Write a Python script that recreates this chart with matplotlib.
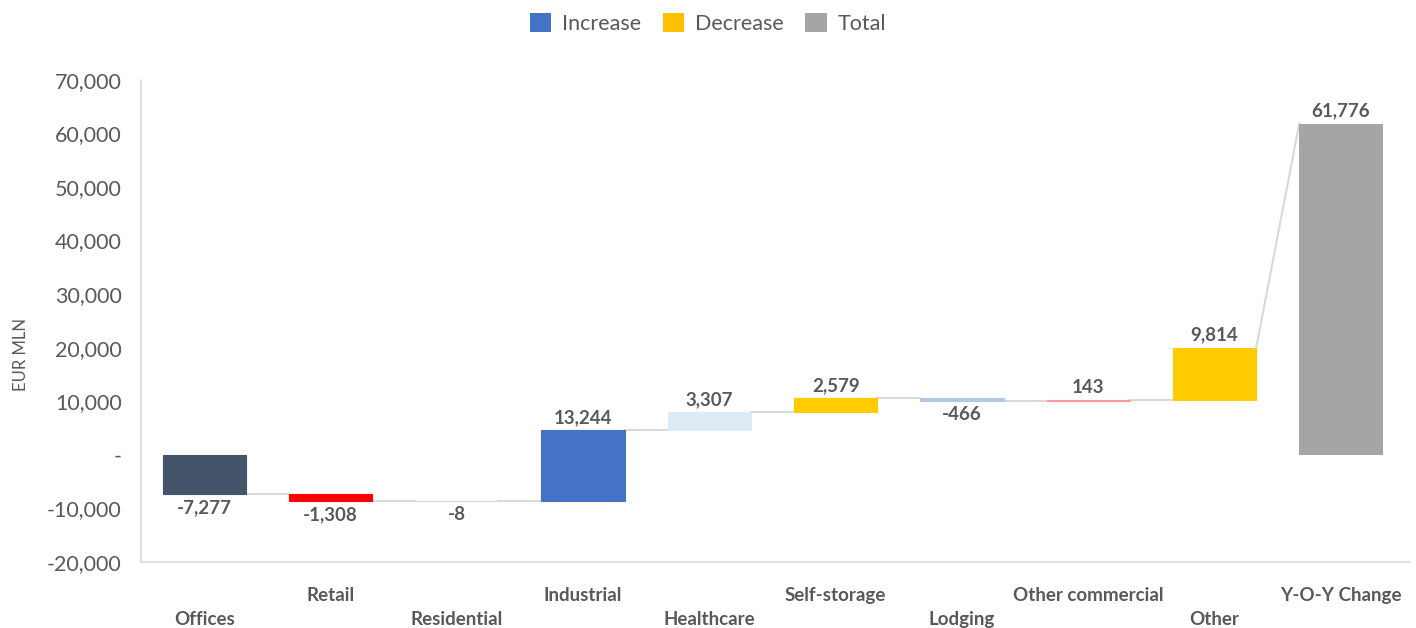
import matplotlib
matplotlib.use("Agg")
import matplotlib.pyplot as plt
from matplotlib.patches import Patch
from matplotlib.ticker import FuncFormatter
import numpy as np

categories = ["Offices", "Retail", "Residential", "Industrial", "Healthcare",
              "Self-storage", "Lodging", "Other commercial", "Other", "Y-O-Y Change"]
changes = [-7277, -1308, -8, 13244, 3307, 2579, -466, 143, 9814]
total_value = 61776
bar_colors = ["#44546A", "#FF0000", "#D9D9D9", "#4472C4", "#DDEBF7",
              "#FFCC00", "#B4C7E7", "#FF9999", "#FFCC00", "#A5A5A5"]
legend_labels = ["Increase", "Decrease", "Total"]
legend_colors = ["#4472C4", "#FFC000", "#A5A5A5"]
yticks = list(range(-20000, 70001, 10000))

plt.rcParams['font.family'] = ['Lato', 'DejaVu Sans']
txt = "#595959"

fig = plt.figure(figsize=(14.16, 6.28), dpi=100)
ax = fig.add_axes([0.0996, 0.105, 0.8964, 0.768])

ends = np.cumsum(changes)
starts = np.concatenate([[0], ends[:-1]])
x = np.arange(len(categories))
w = 0.66

for i, (s, c) in enumerate(zip(starts, changes)):
    ax.bar(x[i], c, bottom=s, width=w, color=bar_colors[i], edgecolor=bar_colors[i],
           linewidth=0.8, zorder=2)
    top = max(s, s + c)
    bot = min(s, s + c)
    if c >= 0:
        ax.annotate(f"{c:,}", (x[i], top), xytext=(0, 3), textcoords="offset points",
                    ha="center", va="bottom", fontsize=13.5, fontweight="bold", color=txt)
    else:
        ax.annotate(f"{c:,}", (x[i], bot), xytext=(0, -4), textcoords="offset points",
                    ha="center", va="top", fontsize=13.5, fontweight="bold", color=txt)

# total bar
ax.bar(x[-1], total_value, width=w, color=bar_colors[-1], edgecolor="none", zorder=2)
ax.annotate(f"{total_value:,}", (x[-1], total_value), xytext=(0, 3), textcoords="offset points",
            ha="center", va="bottom", fontsize=13.5, fontweight="bold", color=txt)

# connectors
for i in range(len(changes) - 1):
    ax.plot([x[i] + w / 2, x[i + 1] - w / 2], [ends[i], ends[i]], color="#D9D9D9", lw=1.5, zorder=1)
ax.plot([x[-2] + w / 2, x[-1] - w / 2], [ends[-1], total_value], color="#D9D9D9", lw=1.5, zorder=1)

ax.set_xlim(-0.5, 9.55)
ax.set_ylim(-20000, 70000)
ax.set_yticks(yticks)
ax.yaxis.set_major_formatter(FuncFormatter(lambda v, p: "-" if v == 0 else f"{int(v):,}"))
ax.tick_params(axis="y", length=0, labelsize=15.5, labelcolor=txt, pad=14)
ax.set_xticks(x)
ax.set_xticklabels([])
ax.tick_params(axis="x", length=0)
for i, name in enumerate(categories):
    yoff = -33 if i % 2 == 1 else -57
    ax.annotate(name, (x[i], -20000), xytext=(0, yoff), textcoords="offset pixels",
                ha="center", va="center", fontsize=13.5, fontweight="bold", color=txt,
                annotation_clip=False)

for s in ["top", "right"]:
    ax.spines[s].set_visible(False)
for s in ["left", "bottom"]:
    ax.spines[s].set_color("#D9D9D9")
    ax.spines[s].set_linewidth(1.2)

ax.set_ylabel("EUR MLN", fontsize=12, color=txt, labelpad=14)
ax.yaxis.set_label_coords(-0.088, 0.43)

handles = [Patch(facecolor=c, edgecolor="none") for c in legend_colors]
fig.legend(handles, legend_labels, loc="upper center", bbox_to_anchor=(0.5, 1.01), ncol=3,
           frameon=False, fontsize=15.5, labelcolor=txt, handlelength=1.0, handleheight=1.0,
           columnspacing=1.0, handletextpad=0.5)

fig.savefig("out.png", dpi=100, facecolor="white")
